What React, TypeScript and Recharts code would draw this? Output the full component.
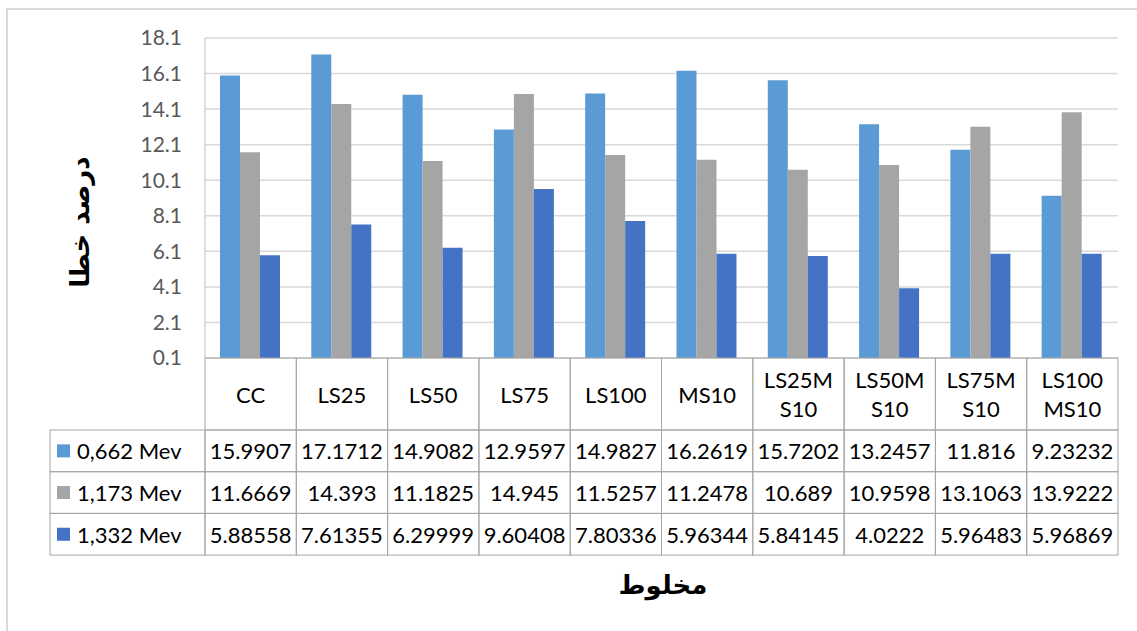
import React from 'react';
import { BarChart, Bar, XAxis, YAxis, CartesianGrid, Customized } from 'recharts';

// categories and the way their header cell wraps
const categories = ['CC', 'LS25', 'LS50', 'LS75', 'LS100', 'MS10', 'LS25MS10', 'LS50MS10', 'LS75MS10', 'LS100MS10'];
const headerLines = [['CC'], ['LS25'], ['LS50'], ['LS75'], ['LS100'], ['MS10'], ['LS25M', 'S10'], ['LS50M', 'S10'], ['LS75M', 'S10'], ['LS100', 'MS10']];

const mev662 = [15.9907, 17.1712, 14.9082, 12.9597, 14.9827, 16.2619, 15.7202, 13.2457, 11.816, 9.23232];
const mev1173 = [11.6669, 14.393, 11.1825, 14.945, 11.5257, 11.2478, 10.689, 10.9598, 13.1063, 13.9222];
const mev1332 = [5.88558, 7.61355, 6.29999, 9.60408, 7.80336, 5.96344, 5.84145, 4.0222, 5.96483, 5.96869];

const yTicks = [0.1, 2.1, 4.1, 6.1, 8.1, 10.1, 12.1, 14.1, 16.1, 18.1];

const series = [
  { key: 'mev662', name: '0,662 Mev', color: '#5B9BD5', values: mev662 },
  { key: 'mev1173', name: '1,173 Mev', color: '#A5A5A5', values: mev1173 },
  { key: 'mev1332', name: '1,332 Mev', color: '#4472C4', values: mev1332 },
];

const chartData = categories.map((c, i) => ({
  name: c,
  mev662: mev662[i],
  mev1173: mev1173[i],
  mev1332: mev1332[i],
}));

const FONT = 'Lato, "Liberation Sans", sans-serif';
const TABLE_LINE = '#a6a6a6';
const HEADER_H = 72;
const ROW_H = 41.7;
const LEGEND_LEFT = 50;

// one column of the data table, drawn under each category tick
const TableColumn = (props: any) => {
  const { x, y, payload, index } = props;
  const half = payload && payload.offset ? payload.offset : 45.65;
  const left = x - half;
  const w = half * 2;
  const lines = headerLines[index] || [String(payload.value)];
  return (
    <g>
      <rect x={left} y={y} width={w} height={HEADER_H} fill="none" stroke={TABLE_LINE} />
      {lines.map((ln, li) => (
        <text
          key={li}
          x={x}
          y={y + HEADER_H / 2 + (lines.length === 1 ? 0 : (li - 0.5) * 29)}
          textAnchor="middle"
          dominantBaseline="central"
          fontSize={22}
          fontFamily={FONT}
          fill="#000"
        >
          {ln}
        </text>
      ))}
      {series.map((s, r) => {
        const top = y + HEADER_H + r * ROW_H;
        return (
          <g key={s.key}>
            <rect x={left} y={top} width={w} height={ROW_H} fill="none" stroke={TABLE_LINE} />
            <text
              x={x}
              y={top + ROW_H / 2}
              textAnchor="middle"
              dominantBaseline="central"
              fontSize={22}
              fontFamily={FONT}
              fill="#000"
            >
              {String(s.values[index])}
            </text>
            {index === 0 && (
              <g>
                <rect x={LEGEND_LEFT} y={top} width={left - LEGEND_LEFT} height={ROW_H} fill="none" stroke={TABLE_LINE} />
                <rect x={LEGEND_LEFT + 7} y={top + ROW_H / 2 - 6.5} width={13} height={13} fill={s.color} />
                <text
                  x={LEGEND_LEFT + 27}
                  y={top + ROW_H / 2}
                  dominantBaseline="central"
                  fontSize={22}
                  fontFamily={FONT}
                  fill="#000"
                >
                  {s.name}
                </text>
              </g>
            )}
          </g>
        );
      })}
    </g>
  );
};

const Decorations = () => (
  <g>
    <rect x={7} y={9} width={1160} height={660} fill="none" stroke="#d9d9d9" strokeWidth={2} />
    <text
      x={80}
      y={222}
      transform="rotate(-90 80 222)"
      textAnchor="middle"
      dominantBaseline="central"
      fontSize={26}
      fontWeight="bold"
      fontFamily='"DejaVu Sans", sans-serif'
      fill="#000"
    >
      درصد خطا
    </text>
    <text
      x={663}
      y={585}
      textAnchor="middle"
      dominantBaseline="central"
      fontSize={26}
      fontWeight="bold"
      fontFamily='"DejaVu Sans", sans-serif'
      fill="#000"
    >
      مخلوط
    </text>
  </g>
);

const App: React.FC = () => {
  return (
    <div style={{ position: 'absolute', left: 0, top: 0, width: 1137, height: 631, background: '#fff' }}>
      <BarChart
        width={1137}
        height={631}
        data={chartData}
        margin={{ top: 38, right: 19, left: 0, bottom: 76 }}
        barCategoryGap="16.4%"
        barGap={0}
      >
        <CartesianGrid horizontal vertical={false} stroke="#d9d9d9" strokeWidth={1.5} />
        <XAxis
          dataKey="name"
          height={197}
          interval={0}
          axisLine={false}
          tickLine={false}
          tickSize={0}
          tickMargin={0}
          tick={(p: any) => <TableColumn {...p} />}
        />
        <YAxis
          width={205}
          domain={[0.1, 18.1]}
          ticks={yTicks}
          interval={0}
          allowDataOverflow
          axisLine={{ stroke: '#bfbfbf' }}
          tickLine={false}
          tickSize={0}
          tickMargin={23}
          tick={{ fontSize: 21, fill: '#595959', fontFamily: FONT }}
          tickFormatter={(v: number) => v.toFixed(1)}
        />
        {series.map((s) => (
          <Bar key={s.key} dataKey={s.key} name={s.name} fill={s.color} isAnimationActive={false} />
        ))}
        <Customized component={<Decorations />} />
      </BarChart>
    </div>
  );
};

export default App;
